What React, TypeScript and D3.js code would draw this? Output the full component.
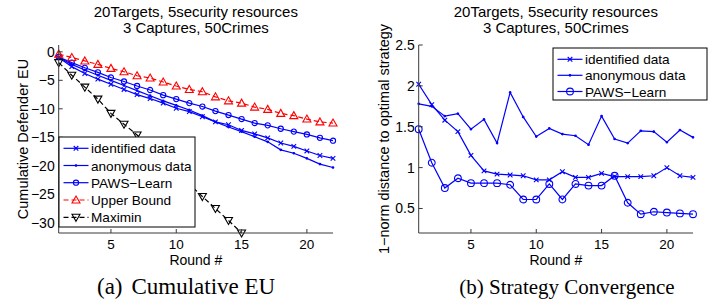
import React from "react";
import * as d3 from "d3";

const ROUNDS = [1, 2, 3, 4, 5, 6, 7, 8, 9, 10, 11, 12, 13, 14, 15, 16, 17, 18, 19, 20, 21, 22];
const MAXIMIN_ROUNDS = [1, 2, 3, 4, 5, 6, 7, 8, 9, 10, 11, 12, 13, 14, 15];

const EU_IDENTIFIED = [-1.0, -2.6, -3.8, -4.8, -5.7, -6.6, -7.5, -8.2, -9.0, -9.9, -10.5, -11.4, -12.3, -12.8, -13.8, -14.4, -15.1, -16.0, -16.6, -17.4, -18.2, -18.7];
const EU_ANONYMOUS = [-1.0, -2.2, -3.2, -4.1, -5.0, -5.9, -6.8, -7.7, -8.6, -9.4, -10.2, -11.2, -12.3, -13.2, -14.0, -14.9, -15.8, -17.2, -17.8, -18.7, -19.7, -20.3];
const EU_PAWS = [-0.9, -1.9, -2.8, -3.6, -4.5, -5.2, -6.0, -6.7, -7.6, -8.3, -9.0, -9.6, -10.4, -11.1, -11.8, -12.5, -12.9, -13.5, -14.0, -14.5, -15.1, -15.6];
const EU_UPPER = [-0.4, -1.0, -1.6, -2.2, -2.9, -3.5, -4.2, -4.6, -5.3, -6.0, -6.6, -7.0, -7.9, -8.6, -9.0, -9.7, -10.1, -10.8, -11.2, -11.8, -12.3, -12.5];
const EU_MAXIMIN = [-1.9, -4.1, -6.2, -8.3, -10.8, -12.7, -14.6, -16.8, -19.0, -21.1, -23.2, -25.4, -27.5, -29.6, -31.8];

const CONV_IDENTIFIED = [2.02, 1.77, 1.58, 1.44, 1.15, 0.96, 0.92, 0.91, 0.9, 0.85, 0.85, 0.95, 0.88, 0.88, 0.93, 0.89, 0.89, 0.89, 0.9, 1.0, 0.9, 0.88];
const CONV_ANONYMOUS = [1.78, 1.75, 1.63, 1.66, 1.47, 1.59, 1.3, 1.92, 1.62, 1.38, 1.48, 1.41, 1.39, 1.28, 1.63, 1.35, 1.3, 1.45, 1.44, 1.31, 1.46, 1.37];
const CONV_PAWS = [1.47, 1.06, 0.75, 0.87, 0.81, 0.81, 0.81, 0.79, 0.61, 0.61, 0.8, 0.61, 0.8, 0.78, 0.78, 0.9, 0.57, 0.43, 0.46, 0.45, 0.44, 0.43];

const X_TICKS = [5, 10, 15, 20];
const EU_Y_TICKS = [0, -5, -10, -15, -20, -25, -30];
const CONV_Y_TICKS = [0.5, 1, 1.5, 2, 2.5];

const TITLE1 = "20Targets, 5security resources";
const TITLE2 = "3 Captures, 50Crimes";
const LEFT_LEGEND = ["identified data", "anonymous data", "PAWS\u2212Learn", "Upper Bound", "Maximin"];
const RIGHT_LEGEND = ["identified data", "anonymous data", "PAWS\u2212Learn"];

const BLUE = "#0000ff";
const RED = "#ff0000";
const AXIS = "#3a3a3a";
const SANS = "'Liberation Sans', Arial, Helvetica, sans-serif";
const SERIF = "'Liberation Serif', 'Times New Roman', serif";

type Marker = "x" | "dot" | "o" | "tri" | "vtri";

function markerPath(kind: Marker, cx: number, cy: number, s: number): string {
  if (kind === "x") {
    return `M${cx - s},${cy - s}L${cx + s},${cy + s}M${cx - s},${cy + s}L${cx + s},${cy - s}`;
  }
  if (kind === "tri") {
    return `M${cx},${cy - s}L${cx + s},${cy + s * 0.75}L${cx - s},${cy + s * 0.75}Z`;
  }
  if (kind === "vtri") {
    return `M${cx},${cy + s}L${cx + s},${cy - s * 0.75}L${cx - s},${cy - s * 0.75}Z`;
  }
  const p = d3.path();
  p.moveTo(cx + s, cy);
  p.arc(cx, cy, s, 0, Math.PI * 2);
  return p.toString();
}

interface Series {
  xs: number[];
  ys: number[];
  color: string;
  dash?: string;
  marker: Marker;
  size: number;
}

function SeriesView({ s, x, y }: { s: Series; x: d3.ScaleLinear<number, number>; y: d3.ScaleLinear<number, number> }) {
  const pts: [number, number][] = s.xs.map((v, i) => [x(v), y(s.ys[i])]);
  const line = d3.line()(pts) || "";
  return (
    <g>
      <path d={line} fill="none" stroke={s.color} strokeWidth={1.2} strokeDasharray={s.dash} />
      {pts.map(([px, py], i) => (
        <path
          key={i}
          d={markerPath(s.marker, px, py, s.size)}
          fill={s.marker === "dot" ? s.color : "none"}
          stroke={s.color}
          strokeWidth={1.1}
        />
      ))}
    </g>
  );
}

function Axes({
  x,
  y,
  yTicks,
  yFmt,
  yLabel,
  yLabelX,
}: {
  x: d3.ScaleLinear<number, number>;
  y: d3.ScaleLinear<number, number>;
  yTicks: number[];
  yFmt: (v: number) => string;
  yLabel: string;
  yLabelX: number;
}) {
  const [x0, x1] = x.range();
  const [yb, yt] = y.range();
  const cx = (x0 + x1) / 2;
  const cy = (yb + yt) / 2;
  return (
    <g fontFamily={SANS} fill="#000">
      <line x1={x0} y1={yt} x2={x0} y2={yb} stroke={AXIS} strokeWidth={1} />
      <line x1={x0} y1={yb} x2={x1} y2={yb} stroke={AXIS} strokeWidth={1} />
      {yTicks.map((t) => (
        <g key={"y" + t}>
          <line x1={x0} x2={x0 + 4} y1={y(t)} y2={y(t)} stroke={AXIS} />
          <text x={x0 - 4} y={y(t) + 5} textAnchor="end" fontSize={14}>
            {yFmt(t)}
          </text>
        </g>
      ))}
      {X_TICKS.map((t) => (
        <g key={"x" + t}>
          <line x1={x(t)} x2={x(t)} y1={yb} y2={yb - 4} stroke={AXIS} />
          <text x={x(t)} y={yb + 16} textAnchor="middle" fontSize={13.5}>
            {t}
          </text>
        </g>
      ))}
      <text x={cx} y={yb + 31.5} textAnchor="middle" fontSize={14}>
        Round #
      </text>
      <text x={cx} y={16.7} textAnchor="middle" fontSize={15}>
        {TITLE1}
      </text>
      <text x={cx} y={33.3} textAnchor="middle" fontSize={15}>
        {TITLE2}
      </text>
      <text
        transform={`translate(${yLabelX},${cy}) rotate(-90)`}
        textAnchor="middle"
        fontSize={14.5}
      >
        {yLabel}
      </text>
    </g>
  );
}

function Legend({
  x0,
  y0,
  w,
  h,
  items,
  labels,
  rowY,
}: {
  x0: number;
  y0: number;
  w: number;
  h: number;
  items: { color: string; dash?: string; marker: Marker; size: number }[];
  labels: string[];
  rowY: number[];
}) {
  return (
    <g>
      <rect x={x0} y={y0} width={w} height={h} fill="#fff" stroke="#000" strokeWidth={1} />
      {items.map((it, i) => {
        const ly = rowY[i];
        const lx0 = x0 + 4.5;
        const lx1 = x0 + 29.5;
        const mx = (lx0 + lx1) / 2;
        return (
          <g key={i}>
            <line x1={lx0} x2={lx1} y1={ly} y2={ly} stroke={it.color} strokeWidth={1.2} strokeDasharray={it.dash} />
            <path
              d={markerPath(it.marker, mx, ly, it.size)}
              fill={it.marker === "dot" ? it.color : "none"}
              stroke={it.color}
              strokeWidth={1.1}
            />
            <text x={x0 + 32} y={ly + 5} fontSize={13.6} fontFamily={SANS}>
              {labels[i]}
            </text>
          </g>
        );
      })}
    </g>
  );
}

export default function App() {
  const xL = d3.scaleLinear().domain([1, 22]).range([58.7, 333]);
  const yL = d3.scaleLinear().domain([-31.8, 1.2]).range([233, 45]);
  const xR = d3.scaleLinear().domain([1, 22]).range([418.7, 693]);
  const yR = d3.scaleLinear().domain([0.2, 2.5]).range([233, 45]);

  const leftSeries: Series[] = [
    { xs: ROUNDS, ys: EU_IDENTIFIED, color: BLUE, marker: "x", size: 2.3 },
    { xs: ROUNDS, ys: EU_ANONYMOUS, color: BLUE, marker: "dot", size: 0.8 },
    { xs: ROUNDS, ys: EU_PAWS, color: BLUE, marker: "o", size: 2.6 },
    { xs: ROUNDS, ys: EU_UPPER, color: RED, dash: "5,3", marker: "tri", size: 4 },
    { xs: MAXIMIN_ROUNDS, ys: EU_MAXIMIN, color: "#000", dash: "5,3", marker: "vtri", size: 4 },
  ];
  const rightSeries: Series[] = [
    { xs: ROUNDS, ys: CONV_IDENTIFIED, color: BLUE, marker: "x", size: 2.3 },
    { xs: ROUNDS, ys: CONV_ANONYMOUS, color: BLUE, marker: "dot", size: 0.8 },
    { xs: ROUNDS, ys: CONV_PAWS, color: BLUE, marker: "o", size: 3.4 },
  ];

  return (
    <svg
      width={718}
      height={303}
      viewBox="0 0 718 303"
      style={{ position: "absolute", left: 0, top: 0, background: "#fff" }}
    >
      <rect x={0} y={0} width={718} height={303} fill="#fff" />
      {/* Left chart */}
      {leftSeries.map((s, i) => (
        <SeriesView key={i} s={s} x={xL} y={yL} />
      ))}
      <Axes
        x={xL}
        y={yL}
        yTicks={EU_Y_TICKS}
        yFmt={(v) => (v < 0 ? "\u2212" + Math.abs(v) : String(v))}
        yLabel="Cumulative Defender EU"
        yLabelX={28}
      />
      <Legend
        x0={59}
        y0={137}
        w={136}
        h={90}
        items={leftSeries.map((s) => ({ color: s.color, dash: s.dash, marker: s.marker, size: s.size }))}
        labels={LEFT_LEGEND}
        rowY={[148.3, 165.5, 182.7, 200, 217.3]}
      />
      {/* Right chart */}
      {rightSeries.map((s, i) => (
        <SeriesView key={i} s={s} x={xR} y={yR} />
      ))}
      <Axes
        x={xR}
        y={yR}
        yTicks={CONV_Y_TICKS}
        yFmt={(v) => String(v)}
        yLabel={"1\u2212norm distance to optimal strategy"}
        yLabelX={389}
      />
      <Legend
        x0={553}
        y0={48}
        w={154}
        h={52}
        items={rightSeries.map((s) => ({ color: s.color, dash: s.dash, marker: s.marker, size: s.size }))}
        labels={RIGHT_LEGEND}
        rowY={[59.3, 75.3, 91.5]}
      />
      {/* Captions */}
      <text x={97} y={294} fontFamily={SERIF} fontSize={23}>
        (a)
      </text>
      <text x={131.5} y={294} fontFamily={SERIF} fontSize={23}>
        Cumulative EU
      </text>
      <text x={567} y={294} textAnchor="middle" fontFamily={SERIF} fontSize={21}>
        (b) Strategy Convergence
      </text>
    </svg>
  );
}
